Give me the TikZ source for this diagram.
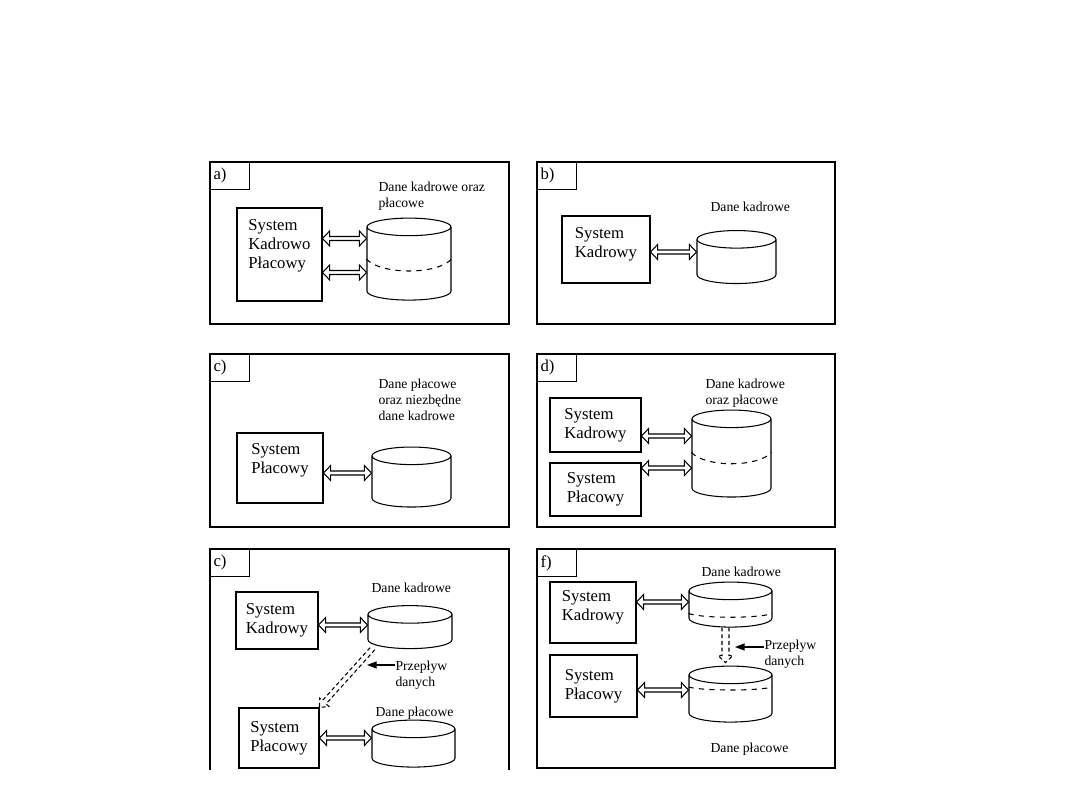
\documentclass[tikz,border=0pt]{standalone}
\usepackage{fontspec}
\setmainfont{Liberation Serif}
\usetikzlibrary{shapes.geometric,arrows.meta,calc,decorations.markings}

\begin{document}
\begin{tikzpicture}[
x=0.02cm, y=-0.02cm, line width=0.6pt,
tag/.style={draw, anchor=north west, minimum width=0.78cm, minimum height=0.48cm,
text width=0.66cm, inner xsep=0.06cm, align=left, font=\fontsize{9.5}{11}\selectfont},
sys/.style={draw, align=left, font=\fontsize{9.5}{10.8}\selectfont},
db/.style={draw, cylinder, shape border rotate=90, aspect=1.5},
lbl/.style={anchor=north west, inner sep=0pt, align=left, font=\fontsize{7.8}{9.2}\selectfont},
% hollow block arrow, two heads
dbl/.style={postaction={decorate}, decoration={markings, mark=at position 0.5 with {
\draw[line join=miter] ({-0.5*\pgfdecoratedpathlength},0pt) -- ({-0.5*\pgfdecoratedpathlength+4pt},4.2pt)
-- ({-0.5*\pgfdecoratedpathlength+4pt},1.15pt) -- ({0.5*\pgfdecoratedpathlength-4pt},1.15pt)
-- ({0.5*\pgfdecoratedpathlength-4pt},4.2pt) -- ({0.5*\pgfdecoratedpathlength},0pt)
-- ({0.5*\pgfdecoratedpathlength-4pt},-4.2pt) -- ({0.5*\pgfdecoratedpathlength-4pt},-1.15pt)
-- ({-0.5*\pgfdecoratedpathlength+4pt},-1.15pt) -- ({-0.5*\pgfdecoratedpathlength+4pt},-4.2pt) -- cycle;}}},
% dashed hollow arrow, one head
flow/.style={postaction={decorate}, decoration={markings, mark=at position 0.5 with {
\draw[dashed, dash pattern=on 2.2pt off 1.6pt] ({-0.5*\pgfdecoratedpathlength},#1) -- ({0.5*\pgfdecoratedpathlength-4pt},#1)
-- ({0.5*\pgfdecoratedpathlength-4pt},{#1+2.2pt}) -- ({0.5*\pgfdecoratedpathlength},0pt)
-- ({0.5*\pgfdecoratedpathlength-4pt},{-#1-2.2pt}) -- ({0.5*\pgfdecoratedpathlength-4pt},-#1)
-- ({-0.5*\pgfdecoratedpathlength},-#1);}}},
parr/.style={-{Triangle[length=5.5pt,width=4pt]}},
sep/.style={dashed}
]
\fill[white] (0,0) rectangle (1080,810);
\useasboundingbox (0,0) rectangle (1080,810);

% panel frames
\draw (210,162) rectangle (509,324);
\draw (537,162) rectangle (835,324);
\draw (210,354) rectangle (509,527);
\draw (537,354) rectangle (835,527);
\draw (210,770) -- (210,549) -- (509,549) -- (509,770);
\draw (537,549) rectangle (835,768);

\node[tag] (tagA) at (210,162) {a)};
\node[tag] (tagB) at (537,162) {b)};
\node[tag] (tagC) at (210,354) {c)};
\node[tag] (tagD) at (537,354) {d)};
\node[tag] (tagE) at (210,549) {c)};
\node[tag] (tagF) at (537,549) {f)};

% a)
\node[sys, minimum width=1.7cm, minimum height=1.86cm, text depth=0.42cm] (sysA) at (279.5,254.5) {System\\Kadrowo\\Płacowy};
\node[db, minimum width=1.68cm, minimum height=1.64cm] (dbA) at (409,266) {};
\node[lbl] (lblA) at (378,181) {Dane kadrowe oraz\\płacowe};
\draw[sep] ($(dbA.west)+(0,-7)$) .. controls +(14,16) and +(-14,16) .. ($(dbA.east)+(0,-7)$);
\coordinate (a1) at ($(sysA.east)+(0,-16)$);
\coordinate (a2) at ($(sysA.east)+(0,18)$);
\path[dbl] (a1) -- (a1 -| dbA.west);
\path[dbl] (a2) -- (a2 -| dbA.west);

% b)
\node[sys, minimum width=1.76cm, minimum height=1.34cm, text depth=0.3cm] (sysB) at (606,249.5) {System\\Kadrowy};
\node[db, minimum width=1.58cm, minimum height=1.06cm] (dbB) at (736.5,264) {};
\node[lbl] (lblB) at (710,201) {Dane kadrowe};
\coordinate (b1) at ($(sysB.east)+(0,2.5)$);
\path[dbl] (b1) -- (b1 -| dbB.west);

% c)
\node[sys, minimum width=1.72cm, minimum height=1.4cm, text depth=0.4cm] (sysC) at (280,468) {System\\Płacowy};
\node[db, minimum width=1.58cm, minimum height=1.2cm] (dbC) at (411.5,484) {};
\node[lbl] (lblC) at (378,378) {Dane płacowe\\oraz niezbędne\\dane kadrowe};
\coordinate (c1) at ($(sysC.east)+(0,5)$);
\path[dbl] (c1) -- (c1 -| dbC.west);

% d)
\node[sys, minimum width=1.82cm, minimum height=1.08cm] (sysD1) at (595.5,425) {System\\Kadrowy};
\node[sys, minimum width=1.82cm, minimum height=1.06cm] (sysD2) at (595.5,489.5) {System\\Płacowy};
\node[db, minimum width=1.58cm, minimum height=1.74cm] (dbD) at (731.5,460.5) {};
\node[lbl] (lblD) at (705,378) {Dane kadrowe\\oraz płacowe};
\draw[sep] ($(dbD.west)+(0,-8)$) .. controls +(14,15) and +(-14,15) .. ($(dbD.east)+(0,-8)$);
\coordinate (d1) at ($(sysD1.east)+(0,11)$);
\coordinate (d2) at ($(sysD2.east)+(0,-21.5)$);
\path[dbl] (d1) -- (d1 -| dbD.west);
\path[dbl] (d2) -- (d2 -| dbD.west);

% e)
\node[sys, minimum width=1.64cm, minimum height=1.14cm] (sysE1) at (277,620.5) {System\\Kadrowy};
\node[sys, minimum width=1.6cm, minimum height=1.2cm] (sysE2) at (279,738) {System\\Płacowy};
\node[db, minimum width=1.68cm, minimum height=0.86cm] (dbE1) at (410,634) {};
\node[db, minimum width=1.66cm, minimum height=0.94cm] (dbE2) at (413.5,750.5) {};
\node[lbl] (lblE1) at (371,582) {Dane kadrowe};
\node[lbl] (lblE2) at (375,706) {Dane płacowe};
\node[lbl] (przE) at (395,660) {Przepływ\\danych};
\coordinate (e1) at ($(sysE1.east)+(0,4.5)$);
\coordinate (e2) at (sysE2.east);
\path[dbl] (e1) -- (e1 -| dbE1.west);
\path[dbl] (e2) -- (e2 -| dbE2.west);
\path[flow=1.4pt] ($(dbE1.south)+(-37,-1)$) -- (sysE2.north east);
\coordinate (ptE) at (367,665);
\draw[parr] (przE.north west |- ptE) -- (ptE);

% f)
\node[sys, minimum width=1.72cm, minimum height=1.22cm, text depth=0.28cm] (sysF1) at (593,612.5) {System\\Kadrowy};
\node[sys, minimum width=1.74cm, minimum height=1.24cm] (sysF2) at (593.5,686) {System\\Płacowy};
\node[db, minimum width=1.66cm, minimum height=0.9cm] (dbF1) at (730.5,611.5) {};
\node[db, minimum width=1.66cm, minimum height=1.12cm] (dbF2) at (730.5,701) {};
\node[lbl] (lblF1) at (701,566) {Dane kadrowe};
\node[lbl] (lblF2) at (710,742) {Dane płacowe};
\node[lbl] (przF) at (764,639) {Przepływ\\danych};
\draw[sep] ($(dbF1.west)+(0,2)$) .. controls +(14,5) and +(-14,5) .. ($(dbF1.east)+(0,2)$);
\draw[sep] ($(dbF2.west)+(0,-14)$) .. controls +(14,4) and +(-14,4) .. ($(dbF2.east)+(0,-14)$);
\coordinate (f1) at ($(sysF1.east)+(0,-10.5)$);
\coordinate (f2) at ($(sysF2.east)+(0,4)$);
\path[dbl] (f1) -- (f1 -| dbF1.west);
\path[dbl] (f2) -- (f2 -| dbF2.west);
\path[flow=2pt] ($(dbF1.south)+(-5,0)$) -- ($(dbF2.north)+(-5,-3)$);
\coordinate (ptF) at (735,647);
\draw[parr] (przF.north west |- ptF) -- (ptF);

\end{tikzpicture}
\end{document}
